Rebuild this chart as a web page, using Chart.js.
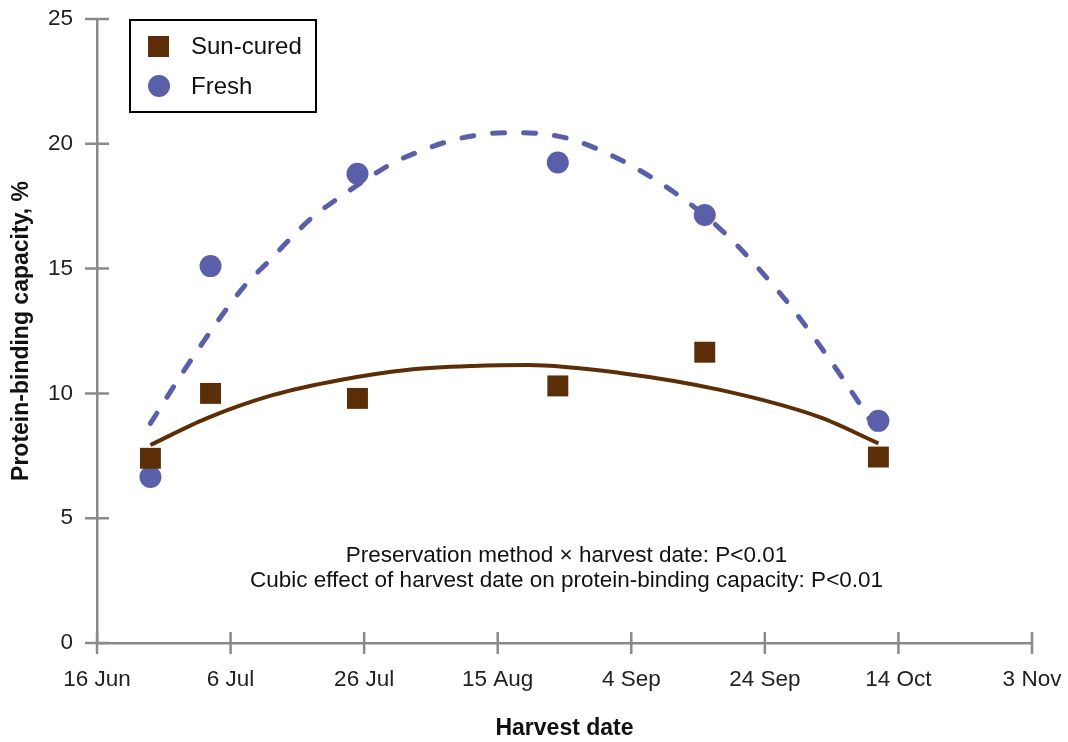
<!DOCTYPE html>
<html>
<head>
<meta charset="utf-8">
<script src="https://cdn.jsdelivr.net/npm/chart.js@4.4.1/dist/chart.umd.min.js"></script>
<style>
  html, body { margin: 0; padding: 0; background: #fff; }
  #wrap { width: 1068px; height: 742px; }
</style>
</head>
<body>
<div id="wrap"><canvas id="chart" width="1068" height="742"></canvas></div>
<script>
// days counted from 16 Jun
var tickDays = [0, 20, 40, 60, 80, 100, 120, 140];
var tickLabels = ['16 Jun', '6 Jul', '26 Jul', '15 Aug', '4 Sep', '24 Sep', '14 Oct', '3 Nov'];
var yTicks = [0, 5, 10, 15, 20, 25];

// measured points
var harvestDays = [8, 17, 39, 69, 91, 117];
var sunCured = [7.4, 10.0, 9.8, 10.3, 11.65, 7.45];
var fresh = [6.65, 15.1, 18.8, 19.25, 17.15, 8.9];

// fitted curves
var sunFitDays = [8, 16.4, 26.4, 36.4, 46.4, 56.3, 64.5, 78.3, 93.3, 108.2, 117];
var sunFit = [7.93, 9.0, 9.94, 10.54, 10.94, 11.1, 11.14, 10.82, 10.14, 9.05, 8.0];
var freshFitDays = [8, 13, 18.9, 22.4, 25.6, 29.2, 32.3, 36.4, 41.3, 44.3, 48.8, 53.3, 58.1, 62.5, 72.5, 91, 102, 108, 115, 117];
var freshFit = [8.8, 10.9, 13.2, 14.4, 15.26, 16.27, 17.07, 17.87, 18.75, 19.23, 19.75, 20.15, 20.39, 20.45, 20.05, 17.13, 14.1, 12.0, 9.25, 8.37];

var brown = '#5b2e07';
var blue = '#5a5faa';
var axisGrey = '#8a8a8a';
var fam = '"Liberation Sans", Arial, sans-serif';

function pts(xs, ys) {
  var out = [];
  for (var i in xs) out.push({x: xs[i], y: ys[i]});
  return out;
}

function noOverflow(s) {
  s.paddingTop = 0; s.paddingBottom = 0; s.paddingLeft = 0; s.paddingRight = 0;
}

// ticks that cross the axis line
var crossTicks = {
  id: 'crossTicks',
  afterDraw: function(chart) {
    var c = chart.ctx, xs = chart.scales.x, ys = chart.scales.y, a = chart.chartArea;
    c.save();
    c.strokeStyle = axisGrey;
    c.lineWidth = 2.5;
    c.beginPath();
    tickDays.forEach(function(d) {
      var px = xs.getPixelForValue(d);
      c.moveTo(px, a.bottom - 11);
      c.lineTo(px, a.bottom + 11);
    });
    yTicks.forEach(function(v) {
      var py = ys.getPixelForValue(v);
      c.moveTo(a.left - 12, py);
      c.lineTo(a.left + 12, py);
    });
    c.stroke();
    c.restore();
  }
};

// legend box and annotation text
var extras = {
  id: 'extras',
  afterDraw: function(chart) {
    var c = chart.ctx, xs = chart.scales.x, ys = chart.scales.y;
    c.save();
    c.strokeStyle = '#000';
    c.lineWidth = 2;
    c.fillStyle = '#fff';
    c.fillRect(130, 20, 186, 92);
    c.strokeRect(130, 20, 186, 92);
    c.fillStyle = brown;
    c.fillRect(148, 36, 21, 21);
    c.fillStyle = blue;
    c.beginPath();
    c.arc(159, 86, 11, 0, Math.PI * 2);
    c.fill();
    c.fillStyle = '#111';
    c.font = '24px ' + fam;
    c.textBaseline = 'middle';
    c.textAlign = 'left';
    c.fillText('Sun-cured', 191, 47);
    c.fillText('Fresh', 191, 87);

    c.font = '22.5px ' + fam;
    c.textAlign = 'center';
    var cx = xs.getPixelForValue(70.3);
    c.fillText('Preservation method \u00d7 harvest date: P<0.01', cx, ys.getPixelForValue(3.5));
    c.fillText('Cubic effect of harvest date on protein-binding capacity: P<0.01', cx, ys.getPixelForValue(2.5));
    c.restore();
  }
};

new Chart(document.getElementById('chart'), {
  type: 'line',
  data: {
    datasets: [
      {
        label: 'Sun-cured',
        data: pts(harvestDays, sunCured),
        showLine: false,
        pointStyle: 'rect',
        pointRadius: 14.8,
        pointBackgroundColor: brown,
        pointBorderWidth: 0,
        order: 0
      },
      {
        label: 'Fresh',
        data: pts(harvestDays, fresh),
        showLine: false,
        pointStyle: 'circle',
        pointRadius: 11,
        pointBackgroundColor: blue,
        pointBorderWidth: 0,
        order: 0
      },
      {
        label: 'Sun-cured fit',
        data: pts(sunFitDays, sunFit),
        borderColor: brown,
        borderWidth: 4,
        pointRadius: 0,
        cubicInterpolationMode: 'monotone',
        fill: false,
        order: 1
      },
      {
        label: 'Fresh fit',
        data: pts(freshFitDays, freshFit),
        borderColor: blue,
        borderWidth: 5,
        borderDash: [12, 19],
        borderCapStyle: 'round',
        pointRadius: 0,
        cubicInterpolationMode: 'monotone',
        fill: false,
        order: 1
      }
    ]
  },
  options: {
    responsive: false,
    animation: false,
    layout: { padding: { top: 19, right: 36, left: 0, bottom: 0 } },
    plugins: { legend: { display: false }, tooltip: { enabled: false } },
    scales: {
      x: {
        type: 'linear',
        min: 0,
        max: 140,
        afterBuildTicks: function(s) { s.ticks = tickDays.map(function(v) { return {value: v}; }); },
        afterFit: function(s) { s.height = 99; noOverflow(s); },
        grid: { display: false, drawTicks: false },
        border: { display: true, color: axisGrey, width: 2.5 },
        ticks: {
          padding: 23,
          color: '#222',
          font: { size: 22.5, family: fam },
          maxRotation: 0,
          autoSkip: false,
          callback: function(v) { return tickLabels[tickDays.indexOf(v)]; }
        },
        title: {
          display: true,
          text: 'Harvest date',
          color: '#111',
          font: { size: 23, weight: 'bold', family: fam },
          padding: { top: 0, bottom: 0 }
        }
      },
      y: {
        min: 0,
        max: 25,
        afterBuildTicks: function(s) { s.ticks = yTicks.map(function(v) { return {value: v}; }); },
        afterFit: function(s) { s.width = 97; noOverflow(s); },
        grid: { display: false, drawTicks: false },
        border: { display: true, color: axisGrey, width: 2.5 },
        ticks: {
          padding: 24,
          color: '#222',
          font: { size: 22.5, family: fam }
        },
        title: {
          display: true,
          text: 'Protein-binding capacity, %',
          color: '#111',
          font: { size: 23, weight: 'bold', family: fam },
          padding: { top: 8, bottom: 0 }
        }
      }
    }
  },
  plugins: [crossTicks, extras]
});
</script>
</body>
</html>
